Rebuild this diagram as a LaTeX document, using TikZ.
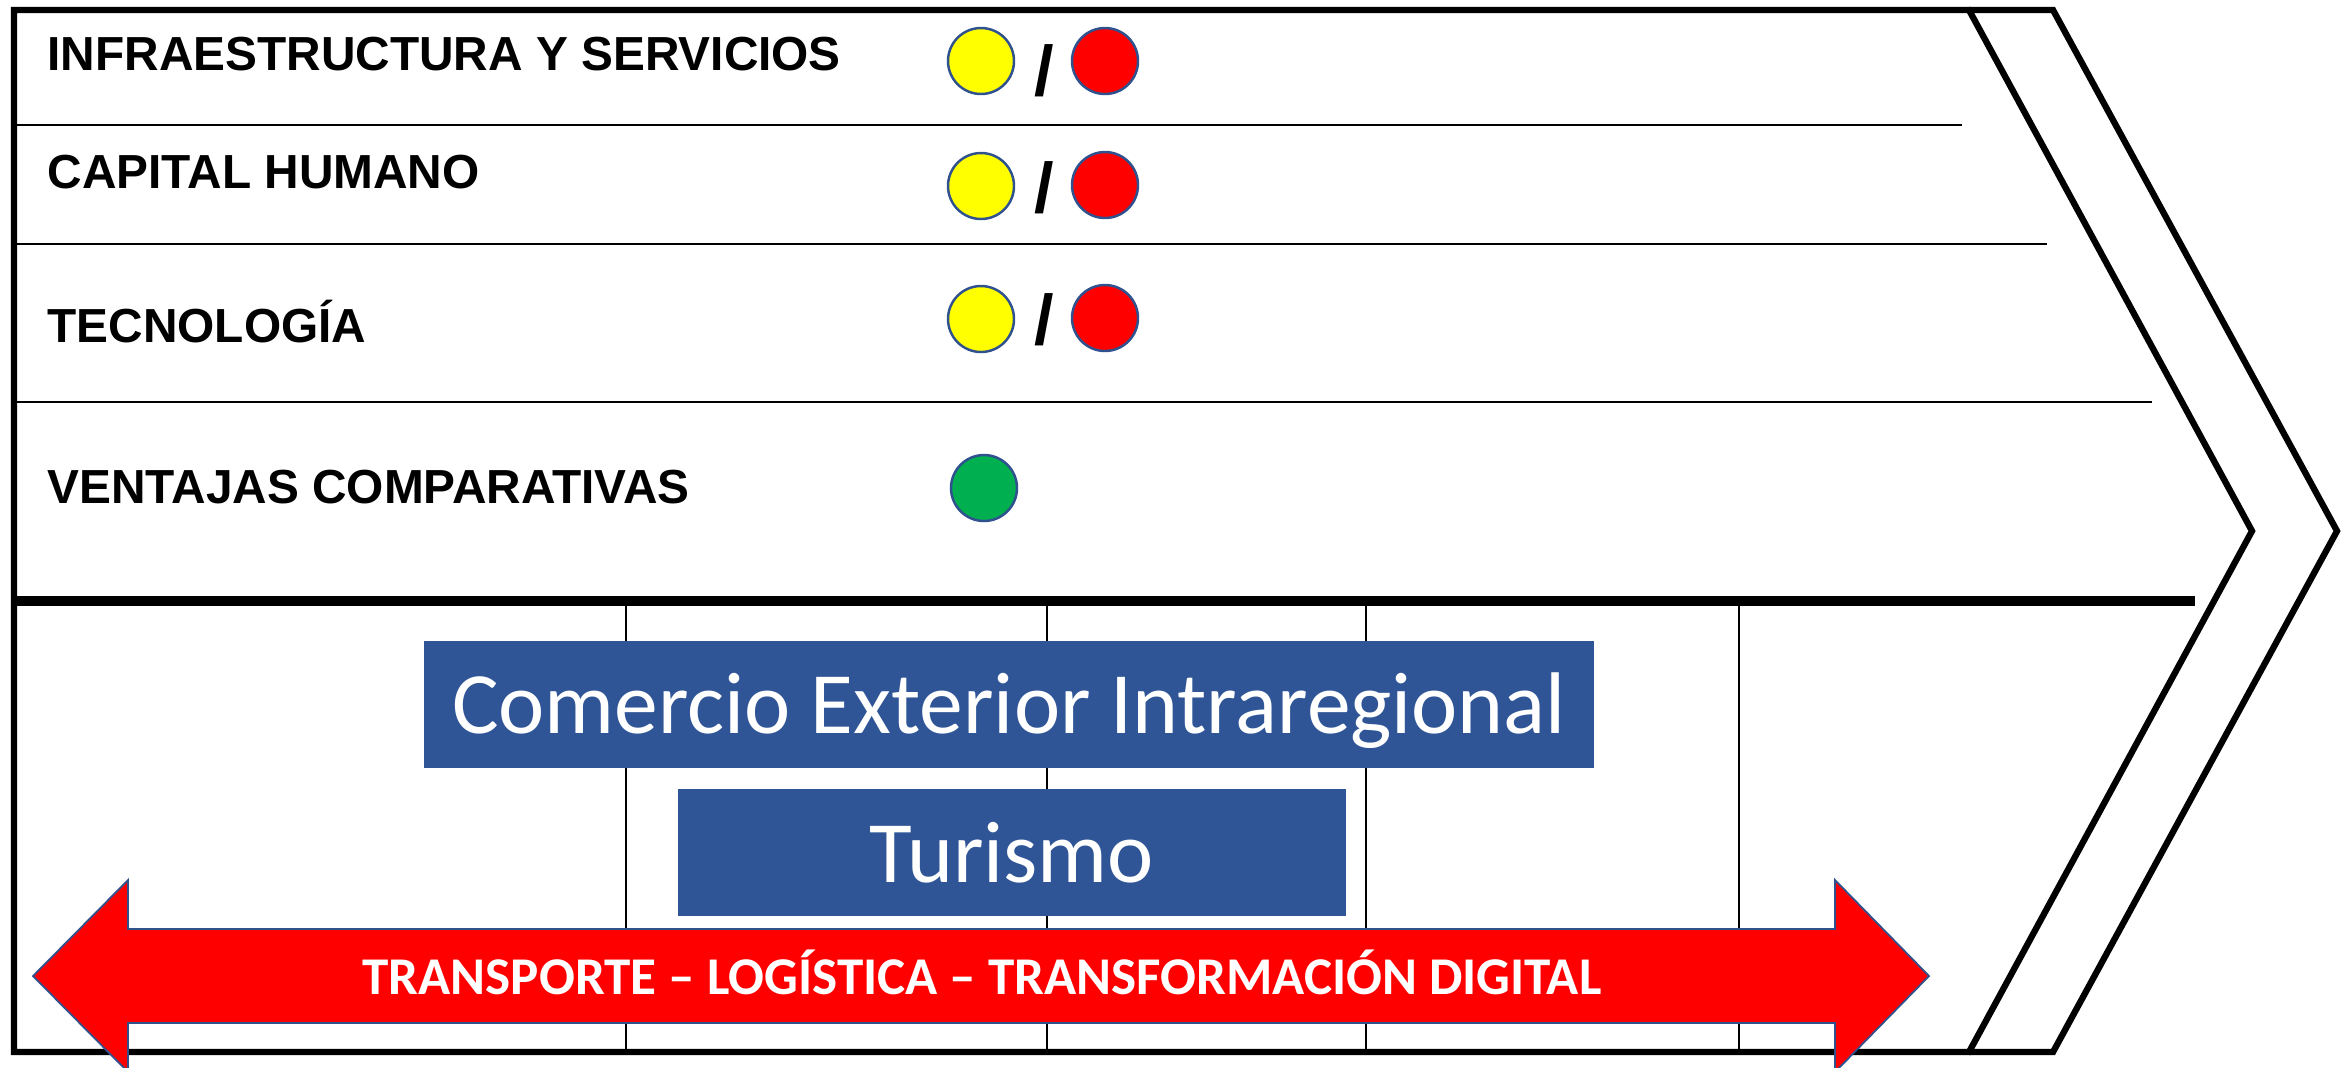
\documentclass[tikz,border=0pt]{standalone}
\usepackage{fontspec}
\setmainfont{Liberation Sans}
\newfontfamily\calibri{Carlito}
\usetikzlibrary{positioning}
\definecolor{boxblue}{RGB}{47,85,151}
\definecolor{edgeblue}{RGB}{47,82,143}
\definecolor{dotyellow}{RGB}{255,255,0}
\definecolor{dotred}{RGB}{255,0,0}
\definecolor{dotgreen}{RGB}{0,176,80}
\tikzset{font=\bfseries\fontsize{13.6}{16}\selectfont}

\begin{document}
\begin{tikzpicture}[y=-1cm]
	\tikzstyle{every node}=[inner sep=0pt]
	\tikzstyle{factor}=[anchor=base west]
	\tikzstyle{dot}=[circle, draw=edgeblue, line width=0.7pt, minimum size=0.66cm]
	\tikzstyle{slash}=[anchor=base, font=\bfseries\fontsize{20}{24}\selectfont]
	\tikzstyle{sector}=[anchor=base, fill=boxblue, text=white, font=\calibri\fontsize{24.9}{30}\selectfont]
	\tikzstyle{frame}=[line width=1.8pt, line join=miter]
	\useasboundingbox (0,0) rectangle (23.41,10.67);

	\draw [frame] (0.14,0.10) -- (19.69,0.10) -- (22.52,5.31) -- (19.69,10.52) -- (0.14,10.52) -- cycle;
	\draw [frame] (19.69,0.10) -- (20.53,0.10) -- (23.37,5.31) -- (20.53,10.52) -- (19.69,10.52);

	\draw [line width=0.75pt] (0.14,1.25) -- (19.62,1.25);
	\draw [line width=0.75pt] (0.14,2.44) -- (20.47,2.44);
	\draw [line width=0.75pt] (0.14,4.02) -- (21.52,4.02);
	\draw [line width=2.6pt] (0.14,6.01) -- (21.95,6.01);

	\foreach \x in {6.26,10.47,13.66,17.39}
		\draw [line width=0.65pt] (\x,6.01) -- (\x,10.52);

	\node [factor] (infra) at (0.47,0.70) {INFRAESTRUCTURA Y SERVICIOS};
	\node [factor] (capital) at (0.47,1.88) {CAPITAL HUMANO};
	\node [factor] (tecno) at (0.47,3.42) {TECNOLOGÍA};
	\node [factor] (ventajas) at (0.47,5.03) {VENTAJAS COMPARATIVAS};

	\node [dot, fill=dotyellow] (infray) at (9.81,0.61) {};
	\node [slash] (infras) at (10.44,0.95) {/};
	\node [dot, fill=dotred] (infrar) at (11.05,0.61) {};

	\node [dot, fill=dotyellow] (capitaly) at (9.81,1.86) {};
	\node [slash] (capitals) at (10.44,2.12) {/};
	\node [dot, fill=dotred] (capitalr) at (11.05,1.85) {};

	\node [dot, fill=dotyellow] (tecnoy) at (9.81,3.19) {};
	\node [slash] (tecnos) at (10.44,3.44) {/};
	\node [dot, fill=dotred] (tecnor) at (11.05,3.18) {};

	\node [dot, fill=dotgreen] (ventajasg) at (9.84,4.88) {};

	\node [sector, minimum width=11.70cm, text height=0.92cm, text depth=0.35cm] (comercio) at (10.09,7.33) {Comercio Exterior Intraregional};
	\node [sector, minimum width=6.68cm, text height=0.93cm, text depth=0.34cm] (turismo) at (10.12,8.82) {Turismo};

	\draw [fill=dotred, draw=edgeblue, line width=0.5pt] (0.33,9.76) -- (1.28,8.80) -- (1.28,9.29) -- (18.35,9.29) -- (18.35,8.80) -- (19.29,9.76) -- (18.35,10.72) -- (18.35,10.23) -- (1.28,10.23) -- (1.28,10.72) -- cycle;
	\node [anchor=base, text=white, font=\calibri\bfseries\fontsize{15.1}{18}\selectfont] (transporte) at (9.82,9.94) {TRANSPORTE – LOGÍSTICA – TRANSFORMACIÓN DIGITAL};
\end{tikzpicture}
\end{document}
